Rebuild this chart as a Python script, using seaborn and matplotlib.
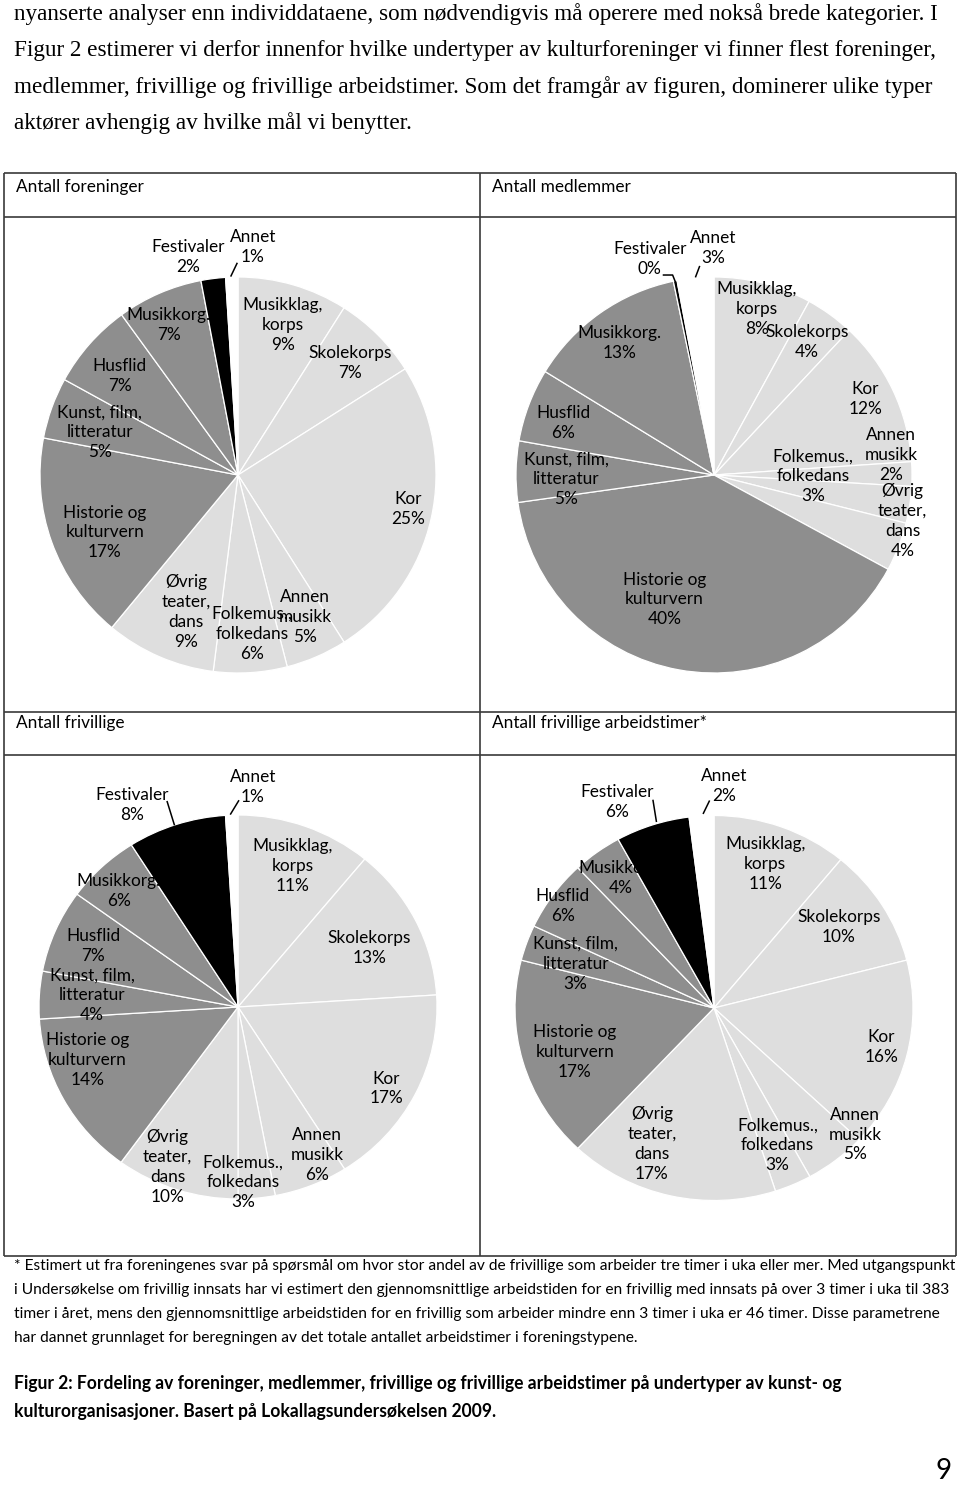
import matplotlib
matplotlib.use("Agg")
import matplotlib.pyplot as plt
import seaborn as sns
import numpy as np

# ---------------- data ----------------
categories = ["Musikklag,\nkorps", "Skolekorps", "Kor", "Annen\nmusikk",
              "Folkemus.,\nfolkedans", "Øvrig\nteater,\ndans",
              "Historie og\nkulturvern", "Kunst, film,\nlitteratur", "Husflid",
              "Musikkorg.", "Festivaler", "Annet"]
groups = ["light"] * 6 + ["mid"] * 4 + ["black", "white"]

panel_titles = ["Antall foreninger", "Antall medlemmer",
                "Antall frivillige", "Antall frivillige arbeidstimer*"]

foreninger = [9, 7, 25, 5, 6, 9, 17, 5, 7, 7, 2, 1]
medlemmer = [8, 4, 12, 2, 3, 4, 40, 5, 6, 13, 0.3, 3]
frivillige = [11, 13, 17, 6, 3, 10, 14, 4, 7, 6, 8, 1]
arbeidstimer = [11, 10, 16, 5, 3, 17, 17, 3, 6, 4, 6, 2]

paragraph = [
    "nyanserte analyser enn individdataene, som nødvendigvis må operere med nokså brede kategorier. I",
    "Figur 2 estimerer vi derfor innenfor hvilke undertyper av kulturforeninger vi finner flest foreninger,",
    "medlemmer, frivillige og frivillige arbeidstimer. Som det framgår av figuren, dominerer ulike typer",
    "aktører avhengig av hvilke mål vi benytter.",
]
footnote = [
    "* Estimert ut fra foreningenes svar på spørsmål om hvor stor andel av de frivillige som arbeider tre timer i uka eller mer. Med utgangspunkt",
    "i Undersøkelse om frivillig innsats har vi estimert den gjennomsnittlige arbeidstiden for en frivillig med innsats på over 3 timer i uka til 383",
    "timer i året, mens den gjennomsnittlige arbeidstiden for en frivillig som arbeider mindre enn 3 timer i uka er 46 timer. Disse parametrene",
    "har dannet grunnlaget for beregningen av det totale antallet arbeidstimer i foreningstypene.",
]
caption = [
    "Figur 2: Fordeling av foreninger, medlemmer, frivillige og frivillige arbeidstimer på undertyper av kunst- og",
    "kulturorganisasjoner. Basert på Lokallagsundersøkelsen 2009.",
]
page_number = "9"

series = [foreninger, medlemmer, frivillige, arbeidstimer]

# ---------------- layout / style ----------------
W, H = 960, 1488
palette = {"light": "#dedede", "mid": "#8e8e8e", "black": "#000000", "white": "#ffffff"}

# pie centre and radii in pixels (cx, cy, rx, ry)
pie_geom = [(238, 475, 198, 198), (714, 475, 198, 198),
            (238, 1007, 199, 192), (714, 1008, 199, 192.5)]

# label radius (fraction of pie radius) and angular nudge from slice middle (deg)
label_r = [
    [0.79, 0.80, 0.874, 0.795, 0.806, 0.738, 0.733, 0.731, 0.78, 0.835, 1.127, 1.155],
    [0.866, 0.82, 0.855, 0.90, 0.50, 0.98, 0.676, 0.746, 0.807, 0.818, 1.137, 1.148],
    [0.785, 0.728, 0.857, 0.866, 0.912, 0.905, 0.805, 0.736, 0.795, 0.853, 1.178, 1.148],
    [0.791, 0.756, 0.865, 0.966, 0.781, 0.771, 0.736, 0.732, 0.925, 0.823, 1.174, 1.153],
]
label_dt = [
    [0.5, -0.1, -1.3, -1.9, -1.4, -2.7, -3.5, -2.6, -1.4, -1.4, -5.6, 5.5],
    [0.1, -1.0, -1.3, -6.1, -8.1, -7.6, 11.4, -2.6, -1.7, -0.4, -5.3, 5.1],
    [0.8, 2.1, 2.7, -5.7, 3.8, 5.0, 8.6, 1.15, 0.2, -1.5, -8.9, 5.5],
    [-0.8, -1.4, -0.8, -9.3, -0.65, 11.3, -1.9, -1.6, -1.2, 1.1, -6.5, 6.1],
]
# leader lines in pie units
leaders = [
    [[(-0.037, 1.002), (-0.0035, 1.072)]],
    [[(-0.094, 0.998), (-0.072, 1.056)], [(-0.259, 1.01), (-0.209, 1.01), (-0.193, 0.97)]],
    [[(-0.039, 1.002), (0.005, 1.077)], [(-0.357, 1.073), (-0.319, 0.946)]],
    [[(-0.055, 1.008), (-0.022, 1.078)], [(-0.307, 1.082), (-0.289, 0.966)]],
]
title_pos = [(16, 187), (492, 187), (16, 723), (492, 723)]
hlines_y = [173, 217, 712, 755, 1256]
vlines_x = [4, 480, 956]
table_x = (4, 956)
table_y = (173, 1256)

sns.set_theme(style="white")
plt.rcParams["font.family"] = ["Lato", "DejaVu Sans"]

fig = plt.figure(figsize=(W / 100, H / 100), dpi=100)
fig.patch.set_facecolor("white")

bg = fig.add_axes([0, 0, 1, 1])
bg.set_xlim(0, W)
bg.set_ylim(H, 0)
bg.axis("off")

line_col = "#3a3a3a"
for y in hlines_y:
    bg.plot(table_x, [y, y], color=line_col, lw=1.2, solid_capstyle="butt")
for x in vlines_x:
    bg.plot([x, x], table_y, color=line_col, lw=1.2, solid_capstyle="butt")

fig.canvas.draw()
renderer = fig.canvas.get_renderer()


def width_of(t):
    return t.get_window_extent(renderer).width


# font size for Calibri-like labels: fit "Antall foreninger" to 126 px
probe = bg.text(0, 0, "Antall foreninger", fontsize=11)
fs_lab = 11 * 128 / width_of(probe)
probe.remove()

for (tx, ty), title in zip(title_pos, panel_titles):
    bg.text(tx, ty, title, fontsize=fs_lab, ha="left", va="center", color="black")

# paragraph (serif)
para_txt = []
for i, s in enumerate(paragraph):
    t = bg.text(14, 14 + i * 36.3, s, fontsize=14, ha="left", va="center",
                family=["Liberation Serif", "DejaVu Serif"], color="black")
    para_txt.append(t)
scale = 926 / width_of(para_txt[0])
for t in para_txt:
    t.set_fontsize(14 * scale)

# footnote
fn_txt = []
for i, s in enumerate(footnote):
    t = bg.text(14, 1266 + i * 24, s, fontsize=10, ha="left", va="center", color="black")
    fn_txt.append(t)
scale = 939 / width_of(fn_txt[0])
for t in fn_txt:
    t.set_fontsize(10 * scale)

cap_txt = []
for i, s in enumerate(caption):
    t = bg.text(14, 1384 + i * 27, s, fontsize=11, ha="left", va="center",
                fontweight="bold", color="black")
    cap_txt.append(t)
scale = 824 / width_of(cap_txt[0])
for t in cap_txt:
    t.set_fontsize(11 * scale)

bg.text(952, 1471, page_number, fontsize=20, ha="right", va="center", color="black")

# ---------------- pies ----------------
half = 245
for k, vals in enumerate(series):
    cx, cy, rx, ry = pie_geom[k]
    ax = fig.add_axes([(cx - half) / W, 1 - (cy + half) / H, 2 * half / W, 2 * half / H])
    ax.pie(vals, colors=[palette[g] for g in groups], startangle=90,
           counterclock=False,
           wedgeprops=dict(edgecolor="white", linewidth=0.9))
    ax.set_aspect("auto")
    ax.set_xlim(-half / rx, half / rx)
    ax.set_ylim(-half / ry, half / ry)
    ax.axis("off")
    ax.patch.set_visible(False)

    total = float(sum(vals))
    cum = 0.0
    for i, v in enumerate(vals):
        mid = 360.0 * (cum + v / 2.0) / total
        cum += v
        th = np.radians(mid + label_dt[k][i])
        r = label_r[k][i]
        ax.text(r * np.sin(th), r * np.cos(th), f"{categories[i]}\n{int(round(v))}%",
                ha="center", va="center", multialignment="center",
                fontsize=fs_lab, linespacing=1.3, color="black", clip_on=False)
    for pts in leaders[k]:
        xs, ys = zip(*pts)
        ax.plot(xs, ys, color="black", lw=1.1, clip_on=False, solid_capstyle="butt")

fig.savefig("out.png", dpi=100, facecolor="white")
